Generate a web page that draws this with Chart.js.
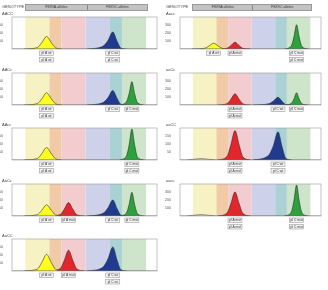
<!DOCTYPE html>
<html>
<head>
<meta charset="utf-8">
<script src="https://cdn.jsdelivr.net/npm/chart.js@4.4.0/dist/chart.umd.min.js"></script>
<style>
  body { margin: 0; width: 328px; height: 290px; background: #fff; position: relative; overflow: hidden;
         font-family: "Liberation Sans", Arial, sans-serif; }
  canvas { position: absolute; }
  .gt { position: absolute; top: 4px; font-size: 4px; color: #444; }
  .bar { position: absolute; top: 3.5px; height: 5px; background: #c3c3c3; border: 0.5px solid #9a9a9a; display: flex; }
  .bar div { font-size: 3.6px; line-height: 5px; color: #333; text-align: center; }
  .bar div + div { border-left: 0.5px solid #888; }
</style>
</head>
<body>
<div class="gt" style="left:2px">GENOTYPE</div>
<div class="bar" style="left:25px;width:121px"><div style="width:61px">F8X9A alleles</div><div style="width:60px">F8X9C alleles</div></div>
<div class="gt" style="left:166px">GENOTYPE</div>
<div class="bar" style="left:192px;width:118px"><div style="width:60px">F8X9A alleles</div><div style="width:58px">F8X9C alleles</div></div>

<script>
// top axis ticks and allele windows (x units)
const tickLabels = ["0", "10", "20", "30", "40", "50", "60"];
const windowEdges = [5.5, 15.5, 20.5, 30.5, 40.5, 45.5, 55.5];
const peakCenters = [14.3, 23.4, 41.7, 49.6]; // A wt, A mut, C wt, C mut

// panels: 0-4 left column, 5-8 right column
const genotypes = ["AACC", "AACc", "AAcc", "AaCc", "AaCC", "Aacc", "aaCc", "aaCC", "aacc"];
const yStep = [50, 50, 50, 250, 250, 100, 100, 50, 100];

// x samples of each peak
const yellowX = [5, 10.5, 12.3, 14.3, 16.3, 18, 20.5];
const redX = [16, 20, 21.6, 23.4, 25.2, 26.8, 30];
const blueX = [31, 37.5, 39.7, 41.7, 43.5, 45, 47.5];
const greenX = [44.5, 47.3, 48.5, 49.6, 50.7, 51.9, 54.5];
const bumpX = [3, 6, 9, 12, 15];

// peak heights, per panel (null = no peak)
const yellowY = [
  [0, 9, 39, 78, 39, 8, 0],
  [0, 9, 38, 76, 38, 8, 0],
  [0, 9, 39, 78, 39, 8, 0],
  [0, 42, 175, 350, 175, 35, 0],
  [0, 62, 260, 520, 260, 52, 0],
  [0, 9, 36, 72, 36, 7, 0],
  null, null, null
];
const redY = [
  null, null, null,
  [0, 50, 210, 420, 210, 42, 0],
  [0, 78, 325, 650, 325, 65, 0],
  [0, 10, 42, 84, 42, 8, 0],
  [0, 17, 70, 140, 70, 14, 0],
  [0, 22, 92, 184, 92, 18, 0],
  [0, 36, 150, 300, 150, 30, 0]
];
const blueY = [
  [0, 16, 53, 106, 48, 6, 0],
  [0, 14, 45, 90, 41, 5, 0],
  null,
  [0, 75, 250, 500, 225, 30, 0],
  [0, 112, 375, 750, 338, 45, 0],
  null,
  [0, 14, 48, 96, 43, 6, 0],
  [0, 26, 88, 176, 79, 11, 0],
  null
];
const greenY = [
  null,
  [0, 18, 73, 146, 73, 15, 0],
  [0, 23, 97, 194, 97, 19, 0],
  [0, 89, 370, 740, 370, 74, 0],
  null,
  [0, 36, 152, 304, 152, 30, 0],
  [0, 18, 76, 152, 76, 15, 0],
  null,
  [0, 47, 194, 388, 194, 39, 0]
];
const bumpY = [null, null, null, null, null, null, null, [0, 5, 10, 5, 0], [0, 10, 20, 10, 0]];

const bandColors = ["#f6f2c4", "#f1caa6", "#f2cccf", "#cdd1ea", "#aad2d5", "#cfe5cb"];
const peakColors = ["#ffff1e", "#e3262b", "#1f3a8f", "#2ca33a"];

function pts(xs, ys) {
  return xs.map((x, i) => ({ x: x, y: ys[i] }));
}

const panelPlugin = {
  id: "panel",
  beforeDatasetsDraw(chart) {
    const { ctx, chartArea: a, scales: { x } } = chart;
    ctx.save();
    for (let i = 0; i < bandColors.length; i++) {
      const x0 = x.getPixelForValue(windowEdges[i]);
      const x1 = x.getPixelForValue(windowEdges[i + 1]);
      ctx.fillStyle = bandColors[i];
      ctx.fillRect(x0, a.top, x1 - x0, a.height);
    }
    ctx.restore();
  },
  afterDraw(chart, args, opts) {
    const { ctx, chartArea: a, scales: { x } } = chart;
    ctx.save();
    ctx.strokeStyle = "#9a9a9a";
    ctx.lineWidth = 0.6;
    ctx.strokeRect(a.left, a.top, a.width, a.height);
    // genotype name
    ctx.fillStyle = "#444";
    ctx.font = "4px 'Liberation Sans', Arial";
    ctx.textBaseline = "middle";
    ctx.textAlign = "left";
    ctx.fillText(opts.name, 2, a.top - 3);
    // allele boxes
    const g = opts.name;
    const boxes = [];
    const loci = [[g[0], g[1], "A", 0], [g[2], g[3], "C", 2]];
    loci.forEach(([a1, a2, letter, k]) => {
      const idx1 = a1 === letter ? k : k + 1;
      const idx2 = a2 === letter ? k : k + 1;
      const lab = (i) => "pl " + letter + (i === k ? " wt" : " mut");
      if (idx1 === idx2) {
        boxes.push([idx1, 0, lab(idx1)], [idx1, 1, lab(idx1)]);
      } else {
        boxes.push([idx1, 0, lab(idx1)], [idx2, 0, lab(idx2)]);
      }
    });
    ctx.font = "3.3px 'Liberation Sans', Arial";
    ctx.textAlign = "center";
    boxes.forEach(([i, row, text]) => {
      const cx = x.getPixelForValue(peakCenters[i]);
      const top = a.bottom + 2 + row * 6.5;
      ctx.fillStyle = "#f3f3f3";
      ctx.fillRect(cx - 7, top, 14, 4.5);
      ctx.strokeStyle = "#8a8a8a";
      ctx.lineWidth = 0.5;
      ctx.strokeRect(cx - 7, top, 14, 4.5);
      ctx.fillStyle = "#333";
      ctx.fillText(text, cx, top + 2.4);
    });
    ctx.restore();
  }
};

function peakSet(xs, ys, color) {
  return {
    data: pts(xs, ys),
    backgroundColor: color,
    borderColor: "#2a2a2a",
    borderWidth: 0.6,
    fill: "origin",
    pointRadius: 0,
    cubicInterpolationMode: "monotone"
  };
}

genotypes.forEach((name, p) => {
  const col = p < 5 ? 0 : 1;
  const row = col === 0 ? p : p - 5;
  const plotTop = Math.round(17 + 55.5 * row);
  const cv = document.createElement("canvas");
  cv.width = 164;
  cv.height = 56;
  cv.style.left = (col * 164) + "px";
  cv.style.top = (plotTop - 7) + "px";
  document.body.appendChild(cv);

  const datasets = [{
    data: [{ x: 0, y: 0 }, { x: 60, y: 0 }],
    borderColor: "#2a2a2a", borderWidth: 0.6, pointRadius: 0, fill: false
  }];
  if (bumpY[p]) datasets.push({ data: pts(bumpX, bumpY[p]), borderColor: "#555", borderWidth: 0.5,
    backgroundColor: "rgba(240,230,150,0.5)", fill: "origin", pointRadius: 0, cubicInterpolationMode: "monotone" });
  if (yellowY[p]) datasets.push(peakSet(yellowX, yellowY[p], peakColors[0]));
  if (redY[p]) datasets.push(peakSet(redX, redY[p], peakColors[1]));
  if (blueY[p]) datasets.push(peakSet(blueX, blueY[p], peakColors[2]));
  if (greenY[p]) datasets.push(peakSet(greenX, greenY[p], peakColors[3]));

  const leftW = col === 0 ? 12 : 16;
  const step = yStep[p];

  new Chart(cv, {
    type: "line",
    data: { datasets },
    plugins: [panelPlugin],
    options: {
      responsive: false,
      animation: false,
      devicePixelRatio: 1,
      layout: { padding: { left: 0, top: 0, right: 7, bottom: 17 } },
      plugins: { legend: { display: false }, tooltip: { enabled: false }, panel: { name: name } },
      scales: {
        x: {
          type: "linear", position: "top", min: 0, max: 60,
          afterFit(s) { s.height = 7; },
          grid: { display: false }, border: { display: false },
          afterBuildTicks(s) { s.ticks = tickLabels.map((t, i) => ({ value: i * 10 })); },
          ticks: { callback: (v, i) => tickLabels[i], font: { size: 4 }, color: "#555", padding: 0, maxRotation: 0, autoSkip: false }
        },
        y: {
          min: 0, max: step * 4,
          afterFit(s) { s.width = leftW; },
          grid: { display: false }, border: { display: false },
          ticks: { stepSize: step, font: { size: 3.6 }, color: "#555", padding: 1,
            callback: (v) => (v === 0 || v === step * 4) ? "" : v }
        }
      }
    }
  });
});
</script>
</body>
</html>
